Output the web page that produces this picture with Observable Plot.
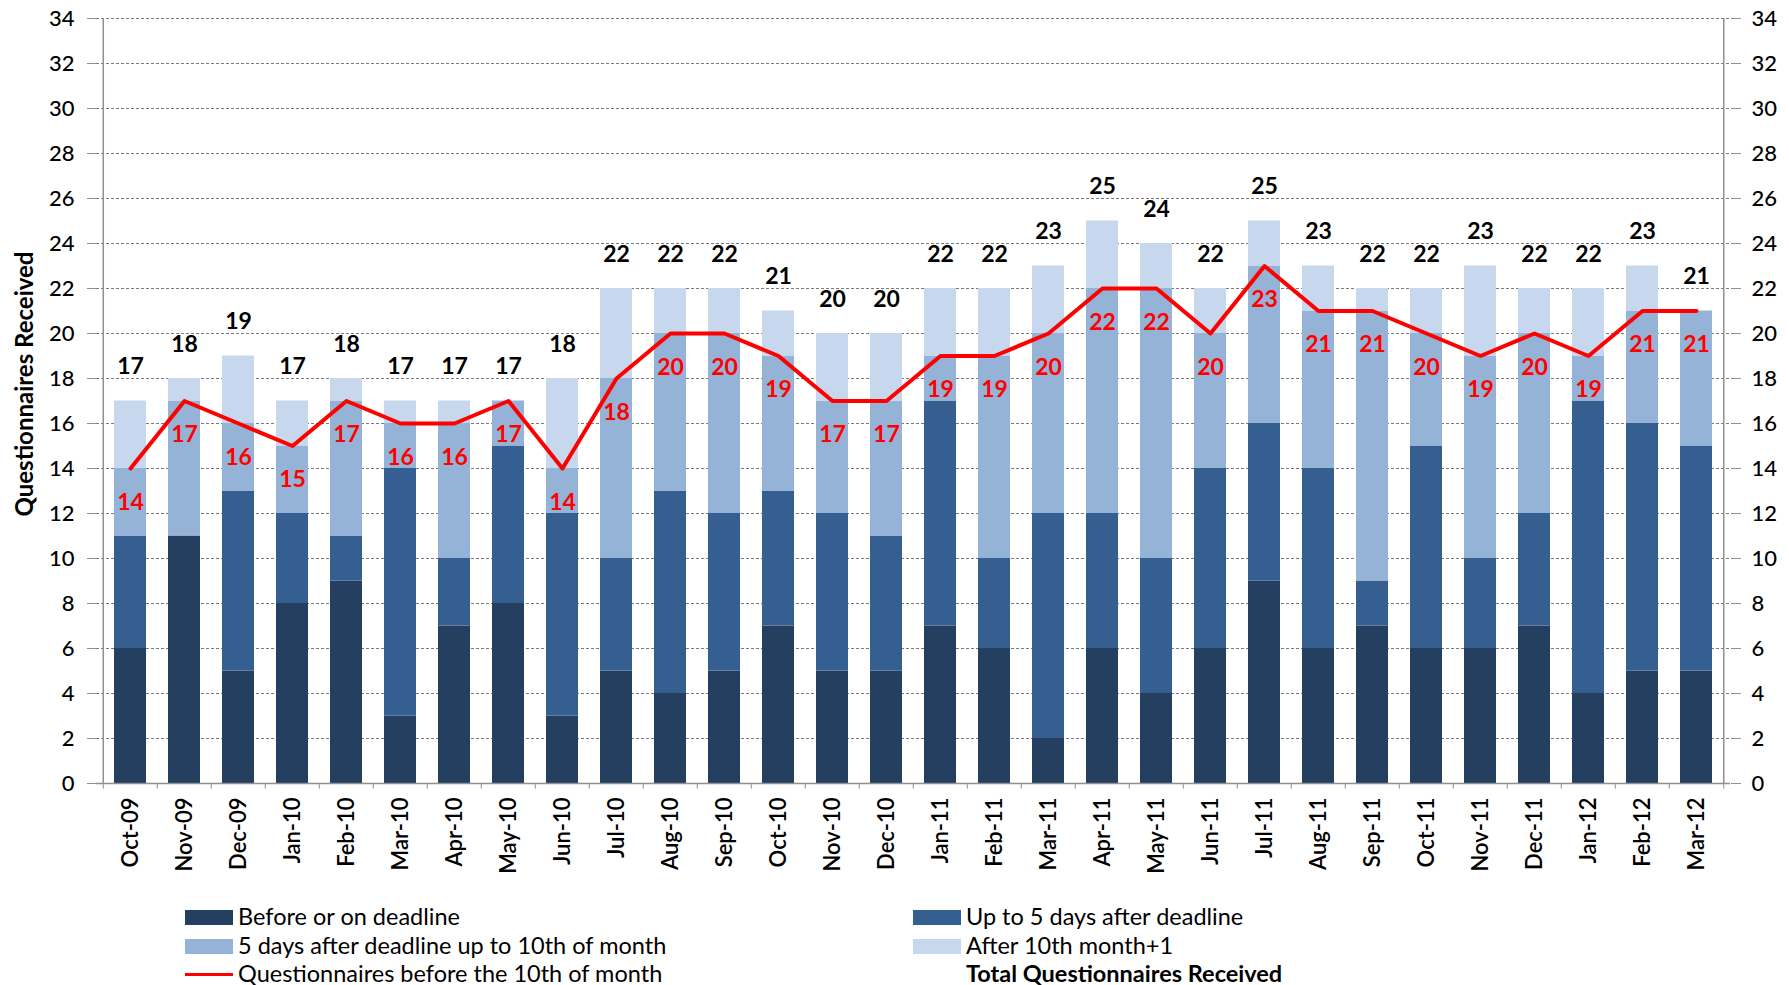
<!DOCTYPE html>
<html>
<head>
<meta charset="utf-8">
<script src="https://cdn.jsdelivr.net/npm/d3@7"></script>
<script src="https://cdn.jsdelivr.net/npm/@observablehq/plot@0.6"></script>
<style>
  html, body { margin: 0; padding: 0; background: #fff; }
  #wrap { position: relative; width: 1789px; height: 985px; }
  .leg { position: absolute; font-family: Lato, "DejaVu Sans", sans-serif; font-size: 23.5px; color: #000; white-space: nowrap; line-height: 26px; }
  .sw { position: absolute; width: 48px; height: 15px; }
  .ln { position: absolute; width: 48px; height: 3px; background: #ff0000; }
</style>
</head>
<body>
<div id="wrap"><div id="chart"></div></div>
<script>
const months = ["Oct-09","Nov-09","Dec-09","Jan-10","Feb-10","Mar-10","Apr-10","May-10","Jun-10","Jul-10","Aug-10","Sep-10","Oct-10","Nov-10","Dec-10","Jan-11","Feb-11","Mar-11","Apr-11","May-11","Jun-11","Jul-11","Aug-11","Sep-11","Oct-11","Nov-11","Dec-11","Jan-12","Feb-12","Mar-12"];
const seriesNames = ["Before or on deadline","Up to 5 days after deadline","5 days after deadline up to 10th of month","After 10th month+1"];
const seriesColors = ["#243f60","#365f91","#95b3d7","#c6d7ee"];
const beforeDeadline = [6,11,5,8,9,3,7,8,3,5,4,5,7,5,5,7,6,2,6,4,6,9,6,7,6,6,7,4,5,5];
const upTo5Days      = [5,0,8,4,2,11,3,7,9,5,9,7,6,7,6,10,4,10,6,6,8,7,8,2,9,4,5,13,11,10];
const upTo10th       = [3,6,3,3,6,2,6,2,2,8,7,8,6,5,6,2,9,8,10,12,6,7,7,12,5,9,8,2,5,6];
const after10th      = [3,1,3,2,1,1,1,0,4,4,2,2,2,3,3,3,3,3,3,2,2,2,2,1,2,4,2,3,2,0];
const totalReceived  = [17,18,19,17,18,17,17,17,18,22,22,22,21,20,20,22,22,23,25,24,22,25,23,22,22,23,22,22,23,21];
const before10th     = [14,17,16,15,17,16,16,17,14,18,20,20,19,17,17,19,19,20,22,22,20,23,21,21,20,19,20,19,21,21];
const yTicks = d3.range(0, 35, 2);
const yTitle = "Questionnaires Received";

const segs = [beforeDeadline, upTo5Days, upTo10th, after10th];
const barData = [];
segs.forEach((arr, s) => arr.forEach((v, i) => barData.push({month: months[i], series: seriesNames[s], value: v})));
const monthData = months.map((m, i) => ({month: m, total: totalReceived[i], line: before10th[i]}));

const W = 1789, ML = 96, MR = 59;
const half = (W - ML - MR) / months.length / 2;

const chart = Plot.plot({
  width: W,
  height: 885,
  marginLeft: ML,
  marginRight: MR,
  marginTop: 18,
  marginBottom: 102,
  style: {fontFamily: "Lato, DejaVu Sans, sans-serif", fontSize: "22px", color: "#000", background: "#fff"},
  x: {type: "band", domain: months, paddingInner: 0.41, paddingOuter: 0.205, label: null},
  y: {domain: [0, 34], label: null},
  color: {domain: seriesNames, range: seriesColors},
  marks: [
    Plot.ruleY(yTicks.filter(t => t > 0), {stroke: "#7a7a7a", strokeDasharray: "3,2", strokeWidth: 1}),
    Plot.barY(barData, {x: "month", y: "value", fill: "series", order: null}),
    Plot.ruleY([0], {stroke: "#909090", strokeWidth: 1.5}),
    Plot.ruleX([months[0]], {x: d => d, dx: -half, y1: 0, y2: 34, stroke: "#909090", strokeWidth: 1.5}),
    Plot.ruleX([months[months.length - 1]], {x: d => d, dx: half, y1: 0, y2: 34, stroke: "#909090", strokeWidth: 1.5}),
    Plot.ruleX(months, {x: d => d, dx: -half, y1: 0, y2: -0.25, stroke: "#909090"}),
    Plot.ruleX([months[months.length - 1]], {x: d => d, dx: half, y1: 0, y2: -0.25, stroke: "#909090"}),
    Plot.axisY({anchor: "left", ticks: yTicks, tickSize: 9, tickPadding: 13, stroke: "#909090", fontSize: 22, fontWeight: 500, label: null}),
    Plot.axisY({anchor: "right", ticks: yTicks, tickSize: 10, tickPadding: 11, stroke: "#909090", fontSize: 22, fontWeight: 500, label: null}),
    Plot.axisX({tickRotate: -90, tickSize: 0, tickPadding: 14, fontSize: 22, fontWeight: 600, label: null}),
    Plot.text([yTitle], {frameAnchor: "left", textAnchor: "middle", lineAnchor: "middle", text: d => d, rotate: -90, dx: -71, dy: -17, fontSize: 24, fontWeight: "bold", fill: "#000"}),
    Plot.line(monthData, {x: "month", y: "line", stroke: "#ff0000", strokeWidth: 4}),
    Plot.text(monthData, {x: "month", y: "line", text: d => String(d.line), dy: 34, fill: "#ff0000", fontSize: 23, fontWeight: "bold"}),
    Plot.text(monthData, {x: "month", y: "total", text: d => String(d.total), dy: -34, fill: "#000", fontSize: 23, fontWeight: "bold"})
  ]
});
document.getElementById("chart").appendChild(chart);

const wrap = document.getElementById("wrap");
const legendItems = [
  {label: seriesNames[0], color: seriesColors[0], x: 185, y: 917, type: "box"},
  {label: seriesNames[1], color: seriesColors[1], x: 913, y: 917, type: "box"},
  {label: seriesNames[2], color: seriesColors[2], x: 185, y: 946, type: "box"},
  {label: seriesNames[3], color: seriesColors[3], x: 913, y: 946, type: "box"},
  {label: "Questionnaires before the 10th of month", color: "#ff0000", x: 185, y: 974, type: "line"},
  {label: "Total Questionnaires Received", color: null, x: 913, y: 974, type: "none"}
];
legendItems.forEach(it => {
  if (it.type === "box") {
    const s = document.createElement("div"); s.className = "sw";
    s.style.left = it.x + "px"; s.style.top = (it.y - 7.5) + "px"; s.style.background = it.color;
    wrap.appendChild(s);
  } else if (it.type === "line") {
    const s = document.createElement("div"); s.className = "ln";
    s.style.left = it.x + "px"; s.style.top = (it.y - 1.5) + "px";
    wrap.appendChild(s);
  }
  const t = document.createElement("div"); t.className = "leg";
  t.textContent = it.label;
  t.style.left = (it.x + 53) + "px"; t.style.top = (it.y - 14) + "px";
  if (it.type === "none") t.style.fontWeight = "bold";
  wrap.appendChild(t);
});
</script>
</body>
</html>
